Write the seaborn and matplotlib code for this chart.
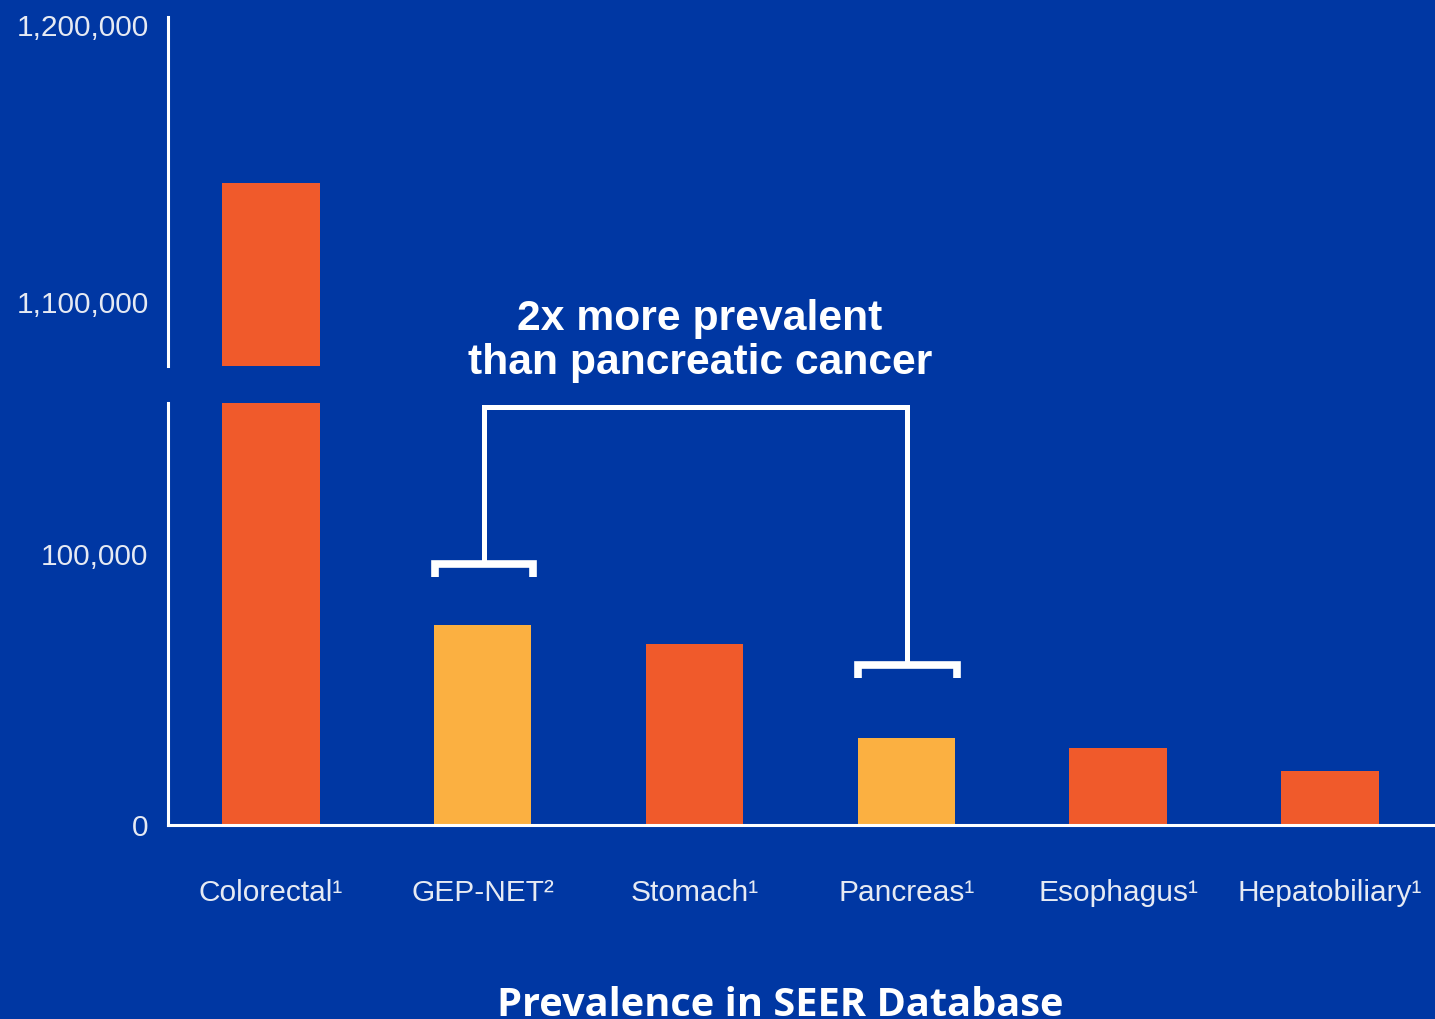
import matplotlib
matplotlib.use("Agg")
import matplotlib.pyplot as plt
import seaborn as sns
import pandas as pd
from matplotlib import font_manager
from matplotlib.ticker import FixedLocator, FuncFormatter

# --- data -------------------------------------------------------------
categories = ["Colorectal", "GEP-NET", "Stomach", "Pancreas", "Esophagus", "Hepatobiliary"]
footnotes = ["1", "2", "1", "1", "1", "1"]
prevalence = [1143000, 74000, 67000, 32000, 28300, 20000]
highlight = [False, True, False, True, False, False]

lower_ticks = [0, 100000]
upper_ticks = [1100000, 1200000]
lower_range = (0, 156000)
upper_range = (1076900, 1202900)

note_text = "2x more prevalent\nthan pancreatic cancer"
title_text = "Prevalence in SEER Database"

# --- style ------------------------------------------------------------
BG = "#0037A3"
ORANGE = "#F05A2B"
GOLD = "#FBB041"
LABEL = "#E6EAF3"
WHITE = "#FFFFFF"

sns.set_style("white")

# narrow sans for the axis labels when available, regular sans at a smaller size otherwise
installed = {f.name for f in font_manager.fontManager.ttflist}
if "Liberation Sans Narrow" in installed:
    axis_family, axis_size = "Liberation Sans Narrow", 25.5
else:
    axis_family, axis_size = "Liberation Sans", 21.5
plt.rcParams["font.family"] = [axis_family, "DejaVu Sans"]

sup = {"1": "\u00b9", "2": "\u00b2"}
labels = [c + sup[f] for c, f in zip(categories, footnotes)]
df = pd.DataFrame({"label": labels, "value": prevalence})
palette = {l: (GOLD if h else ORANGE) for l, h in zip(labels, highlight)}

W, H = 1435, 1019
fig = plt.figure(figsize=(W / 100, H / 100), dpi=100, facecolor=BG)
ax_lo = fig.add_axes([168 / W, (H - 825) / H, (W - 168) / W, (825 - 403) / H])
ax_hi = fig.add_axes([168 / W, (H - 366) / H, (W - 168) / W, (366 - 17) / H])

xlim = (-0.486, 5.496)
fmt = FuncFormatter(lambda v, p: f"{v:,.0f}")

for ax, rng, ticks in [(ax_lo, lower_range, lower_ticks), (ax_hi, upper_range, upper_ticks)]:
    sns.barplot(data=df, x="label", y="value", hue="label", palette=palette,
                width=0.46, saturation=1, linewidth=0, legend=False, ax=ax)
    ax.set_facecolor(BG)
    ax.set_xlim(*xlim)
    ax.set_ylim(*rng)
    ax.set_xlabel("")
    ax.set_ylabel("")
    for side in ["top", "right"]:
        ax.spines[side].set_visible(False)
    for side in ["left", "bottom"]:
        ax.spines[side].set_color(WHITE)
        ax.spines[side].set_linewidth(2.2)
    ax.yaxis.set_major_locator(FixedLocator(ticks))
    ax.yaxis.set_major_formatter(fmt)
    ax.tick_params(axis="y", length=0, pad=14, labelsize=axis_size, labelcolor=LABEL)

# upper panel: only the axis line on the left
ax_hi.spines["bottom"].set_visible(False)
ax_hi.set_xticks([])

# lower panel: category labels under each bar, separators between them
ax_lo.set_xticks(range(len(labels)))
ax_lo.set_xticklabels(labels)
ax_lo.tick_params(axis="x", which="major", length=0, pad=39, labelsize=axis_size, labelcolor=LABEL)
ax_lo.set_xticks([xlim[0]] + [i + 0.5 for i in range(len(labels) - 1)], minor=True)
ax_lo.tick_params(axis="x", which="minor", length=23, width=2.2, color=WHITE, direction="out")

# bracket comparing GEP-NET with pancreas
i_a, i_b = categories.index("GEP-NET"), categories.index("Pancreas")
shift = 0.005
top_y = 154700
cap_a = prevalence[i_a] + 22400
cap_b = prevalence[i_b] + 27100
leg = 4900
half = 0.232
ax_lo.plot([i_a + shift, i_a + shift, i_b + shift, i_b + shift], [cap_a, top_y, top_y, cap_b],
           color=WHITE, lw=3.6, solid_joinstyle="miter", solid_capstyle="butt", clip_on=False)
for xi, yc in [(i_a + shift, cap_a), (i_b + shift, cap_b)]:
    ax_lo.plot([xi - half, xi - half, xi + half, xi + half], [yc - leg, yc, yc, yc - leg],
               color=WHITE, lw=5.5, solid_joinstyle="miter", solid_capstyle="butt", clip_on=False)

fig.text(700 / W, 1 - 341 / H, note_text, ha="center", va="center", color=WHITE,
         fontsize=30.7, fontweight="bold", family=["Liberation Sans", "DejaVu Sans"],
         linespacing=1.1)

fig.text(780 / W, 1 - 986 / H, title_text, ha="center", va="top", color=WHITE,
         fontsize=28.6, fontweight="bold", family=["Open Sans", "DejaVu Sans"])

fig.savefig("out.png", dpi=100, facecolor=BG)
